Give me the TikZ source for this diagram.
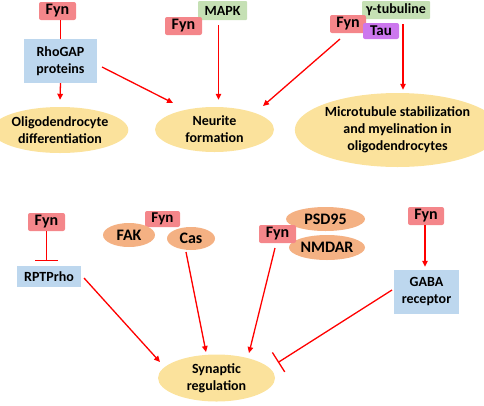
\documentclass[tikz,border=0pt]{standalone}
\usepackage{fontspec}
\setmainfont{Carlito}
\usetikzlibrary{shapes.geometric,arrows.meta,calc}
\definecolor{fynred}{HTML}{F4868A}
\definecolor{boxblue}{HTML}{BDD7EE}
\definecolor{boxgreen}{HTML}{C5E0B4}
\definecolor{taupurple}{HTML}{CC77EE}
\definecolor{ellyellow}{HTML}{FBE29C}
\definecolor{ellorange}{HTML}{F4B183}
\definecolor{arrred}{HTML}{FF0000}
\tikzset{
  base/.style={inner sep=0pt, align=center, font=\bfseries\fontsize{14}{17}\selectfont},
  fyn/.style={base, rectangle, rounded corners=2pt, fill=fynred, minimum width=37pt, minimum height=18pt, font=\bfseries\fontsize{16}{18}\selectfont},
  bluebox/.style={base, rectangle, fill=boxblue},
  greenbox/.style={base, rectangle, fill=boxgreen, rounded corners=1pt},
  taubox/.style={base, rectangle, rounded corners=2pt, fill=taupurple, font=\bfseries\fontsize{15}{17}\selectfont},
  yell/.style={base, ellipse, fill=ellyellow},
  oran/.style={base, ellipse, fill=ellorange, font=\bfseries\fontsize{16}{18}\selectfont},
  conn/.style={draw=arrred, line width=1.3pt},
  arr/.style={conn, -{Triangle[length=6pt,width=5.5pt]}},
  inh/.style={conn, -{Bar[width=23pt]}},
}
\begin{document}
\begin{tikzpicture}[x=1pt,y=-1pt]
\useasboundingbox (0,0) rectangle (484,405);
% top row
\node[fyn] (fynA) at (57.5,11) {Fyn};
\node[bluebox, minimum width=73pt, minimum height=44pt] (rhogap) at (60.5,61) {RhoGAP\\proteins};
\node[yell, minimum width=116pt, minimum height=46pt] (oligo) at (60,130) {Oligodendrocyte\\differentiation};
\node[greenbox, minimum width=49pt, minimum height=19pt] (mapk) at (222.5,10.5) {MAPK};
\node[fyn] (fynB) at (183.5,26) {Fyn};
\node[yell, minimum width=119pt, minimum height=45pt] (neurite) at (214.5,129.5) {Neurite\\formation};
\node[greenbox, minimum width=68pt, minimum height=18pt] (gtub) at (396,10) {γ-tubuline};
\node[fyn, minimum width=36pt] (fynC) at (348,24) {Fyn};
\node[taubox, minimum width=36pt, minimum height=16pt] (tau) at (381,31) {Tau};
\node[yell, minimum width=165pt, minimum height=74pt] (micro) at (397.5,130) {Microtubule stabilization\\and myelination in\\oligodendrocytes};
% bottom row
\node[fyn] (fynD) at (46.5,222) {Fyn};
\node[bluebox, minimum width=64pt, minimum height=21pt] (rptp) at (49,276.5) {RPTPrho};
\node[fyn, minimum width=35pt, minimum height=16pt, font=\bfseries\fontsize{15}{16}\selectfont, anchor=center] (fynE) at (162.5,219) {\raisebox{1pt}{Fyn}};
\node[oran, minimum width=52pt, minimum height=24pt] (fak) at (129,235) {FAK};
\node[oran, minimum width=48pt, minimum height=23pt] (cas) at (191,238.5) {Cas};
\node[oran, minimum width=79pt, minimum height=24pt] (psd) at (325.5,219) {PSD95};
\node[oran, minimum width=76pt, minimum height=25pt] (nmdar) at (327,247.5) {NMDAR};
\node[fyn] (fynF) at (277.5,234) {Fyn};
\node[fyn, minimum width=36pt] (fynG) at (426,216) {Fyn};
\node[bluebox, minimum width=65pt, minimum height=44pt] (gaba) at (426.5,292) {GABA\\receptor};
\node[yell, minimum width=117pt, minimum height=47pt] (syn) at (216.5,378) {Synaptic\\regulation};
% connectors
\draw[conn] (fynA.south -| rhogap.north) -- (rhogap.north);
\draw[arr] (rhogap.south) -- ($(oligo.north)+(0,-7)$);
\draw[arr] ($(rhogap)+(41.5,6)$) -- ($(neurite)+(-41.5,-26.5)$);
\draw[arr] ($(mapk.south)+(-4,5)$) -- ($(neurite.north)+(4,-7)$);
\draw[arr] ($(fynC)+(-8,15)$) -- ($(neurite)+(48.5,-23.5)$);
\draw[arr] ($(gtub.south)+(7,5)$) -- ($(micro.north)+(5.5,-3)$);
\draw[inh] (fynD.south) -- ($(rptp.north)+(-2.5,-5)$);
\draw[arr] ($(rptp)+(35,1.5)$) -- ($(syn)+(-56.5,-16)$);
\draw[arr] ($(cas)+(-5,13.5)$) -- ($(syn)+(-10.5,-26)$);
\draw[arr] ($(fynF)+(-2.5,14)$) -- ($(syn)+(32.5,-25)$);
\draw[arr] ($(fynG.south)+(-1,0)$) -- ($(gaba.north)+(-1.5,-3)$);
\draw[inh] ($(gaba)+(-34.5,-2)$) -- ($(syn)+(61.5,-15.5)$);
\end{tikzpicture}
\end{document}
